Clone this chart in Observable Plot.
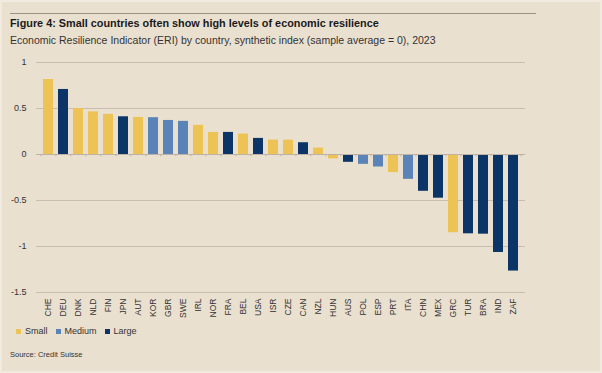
<!DOCTYPE html>
<html>
<head>
<meta charset="utf-8">
<script src="https://cdn.jsdelivr.net/npm/d3@7"></script>
<script src="https://cdn.jsdelivr.net/npm/@observablehq/plot@0.6"></script>
<style>
  html, body { margin: 0; padding: 0; background: #EAE0D0; }
  #wrap { position: relative; width: 602px; height: 373px; background: #EAE0D0; font-family: "Liberation Sans", Arial, sans-serif; color: #222; overflow: hidden; }
  #rule { position: absolute; left: 10px; top: 13px; width: 526px; height: 0; border-top: 1.5px solid #9C9186; }
  #title { position: absolute; left: 10px; top: 17px; font-size: 10.85px; font-weight: bold; color: #1a1a1a; white-space: nowrap; }
  #subtitle { position: absolute; left: 10px; top: 34px; font-size: 10.5px; color: #333; white-space: nowrap; }
  #chart { position: absolute; left: 0; top: 50px; }
  #legend { position: absolute; left: 16px; top: 326px; font-size: 9px; color: #333; display: flex; gap: 8px; white-space: nowrap; }
  #legend span.item { display: flex; align-items: center; }
  #legend span.sw { display: inline-block; width: 5px; height: 5px; margin-right: 4px; }
  #source { position: absolute; left: 10px; top: 350px; font-size: 7.5px; color: #333; }
  #frame { position: absolute; left: 0; top: 0; width: 598px; height: 369px; border: 2px solid #F1EADF; pointer-events: none; }
</style>
</head>
<body>
<div id="wrap">
  <div id="rule"></div>
  <div id="title">Figure 4: Small countries often show high levels of economic resilience</div>
  <div id="subtitle">Economic Resilience Indicator (ERI) by country, synthetic index (sample average = 0), 2023</div>
  <div id="chart"></div>
  <div id="legend"></div>
  <div id="source">Source: Credit Suisse</div>
  <div id="frame"></div>
</div>
<script>
const countries = ["CHE","DEU","DNK","NLD","FIN","JPN","AUT","KOR","GBR","SWE","IRL","NOR","FRA","BEL","USA","ISR","CZE","CAN","NZL","HUN","AUS","POL","ESP","PRT","ITA","CHN","MEX","GRC","TUR","BRA","IND","ZAF"];
const values = [0.815,0.707,0.50,0.464,0.436,0.41,0.403,0.40,0.37,0.36,0.317,0.24,0.24,0.222,0.175,0.157,0.157,0.128,0.07,-0.048,-0.085,-0.107,-0.136,-0.197,-0.27,-0.40,-0.475,-0.85,-0.862,-0.866,-1.065,-1.267];
const sizes = ["Small","Large","Small","Small","Small","Large","Small","Medium","Medium","Medium","Small","Small","Large","Small","Large","Small","Small","Large","Small","Small","Large","Medium","Medium","Small","Medium","Large","Large","Small","Large","Large","Large","Large"];
const sizeLevels = ["Small","Medium","Large"];
const sizeColors = ["#EEC356","#5A84B7","#0B3566"];
const yTicks = [1, 0.5, 0, -0.5, -1, -1.5];

const data = countries.map((c, i) => ({country: c, value: values[i], size: sizes[i]}));

const W = 602, ML = 36, MR = 77;
const step = (W - ML - MR) / countries.length;

const chart = Plot.plot({
  width: W,
  height: 275,
  marginLeft: ML,
  marginRight: MR,
  marginTop: 12,
  marginBottom: 33,
  style: {background: "transparent", fontFamily: "Liberation Sans, Arial, sans-serif", color: "#333"},
  x: {domain: countries, paddingInner: 0.34, paddingOuter: 0.17, label: null},
  y: {domain: [-1.5, 1], label: null},
  color: {domain: sizeLevels, range: sizeColors},
  marks: [
    Plot.gridY(yTicks, {stroke: "#C9BEAE", strokeOpacity: 1, strokeWidth: 1}),
    Plot.barY(data, {x: "country", y: "value", fill: "size"}),
    Plot.ruleY([0], {stroke: "#BDB2A3", strokeWidth: 1}),
    Plot.ruleX(countries, {x: d => d, y1: 0, y2: -0.025, stroke: "#BDB2A3", dx: -step / 2}),
    Plot.ruleX(countries.slice(-1), {x: d => d, y1: 0, y2: -0.025, stroke: "#BDB2A3", dx: step / 2}),
    Plot.axisY(yTicks, {tickSize: 0, tickPadding: 10, fontSize: 9, tickFormat: d => String(d), label: null}),
    Plot.axisX({tickSize: 0, tickPadding: 6, tickRotate: -90, fontSize: 8.5, label: null})
  ]
});
document.getElementById("chart").appendChild(chart);

const legend = document.getElementById("legend");
sizeLevels.forEach((s, i) => {
  const item = document.createElement("span");
  item.className = "item";
  const sw = document.createElement("span");
  sw.className = "sw";
  sw.style.background = sizeColors[i];
  item.appendChild(sw);
  item.appendChild(document.createTextNode(s));
  legend.appendChild(item);
});
</script>
</body>
</html>
